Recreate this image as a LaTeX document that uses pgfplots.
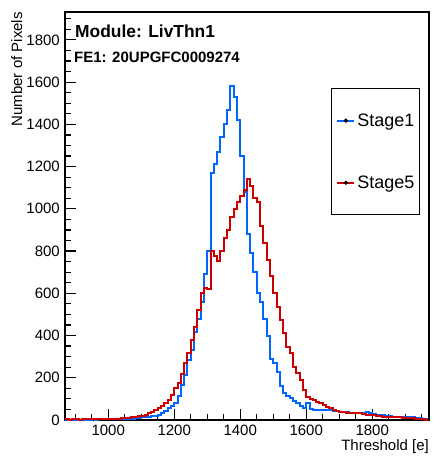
\documentclass[border=0pt]{standalone}
\usepackage{fontspec}
\setmainfont{Liberation Sans}
\usepackage{pgfplots}
\pgfplotsset{compat=1.18}
\usepackage{pgfplotstable}
\definecolor{stageone}{RGB}{0,102,255}
\definecolor{stagefive}{RGB}{204,0,0}

% bin left edge, entries (bin width 10 e)
\pgfplotstableread{
x y
870 2
880 1
890 2
900 1
910 2
920 2
930 2
940 2
950 3
960 2
970 3
980 3
990 3
1000 4
1010 3
1020 4
1030 5
1040 5
1050 6
1060 6
1070 7
1080 8
1090 10
1100 12
1110 14
1120 16
1130 18
1140 21
1150 25
1160 33
1170 42
1180 55
1190 68
1200 82
1210 115
1220 165
1230 215
1240 285
1250 330
1260 415
1270 480
1280 560
1290 690
1300 800
1310 1170
1320 1210
1330 1270
1340 1340
1350 1400
1360 1470
1370 1580
1380 1530
1390 1420
1400 1250
1410 1080
1420 880
1430 790
1440 700
1450 600
1460 560
1470 480
1480 400
1490 290
1500 270
1510 225
1520 160
1530 130
1540 115
1550 105
1560 90
1570 80
1580 68
1590 58
1600 82
1610 52
1620 48
1630 48
1640 46
1650 47
1660 45
1670 46
1680 44
1690 42
1700 40
1710 38
1720 36
1730 34
1740 33
1750 32
1760 33
1770 35
1780 36
1790 34
1800 30
1810 26
1820 24
1830 22
1840 20
1850 18
1860 16
1870 16
1880 15
1890 14
1900 13
1910 13
1920 12
1930 10
1940 8
1950 6
1960 4
1970 4
}\stageone

\pgfplotstableread{
x y
870 3
880 2
890 3
900 3
910 2
920 3
930 3
940 4
950 3
960 4
970 4
980 5
990 5
1000 5
1010 6
1020 6
1030 7
1040 8
1050 9
1060 10
1070 12
1080 14
1090 17
1100 20
1110 25
1120 32
1130 40
1140 47
1150 55
1160 65
1170 79
1180 95
1190 120
1200 150
1210 175
1220 220
1230 270
1240 316
1250 380
1260 440
1270 520
1280 600
1290 625
1300 620
1310 800
1320 775
1330 755
1340 800
1350 860
1360 900
1370 960
1380 1000
1390 1030
1400 1060
1410 1090
1420 1140
1430 1110
1440 1050
1450 1030
1460 920
1470 840
1480 760
1490 680
1500 600
1510 537
1520 474
1530 411
1540 347
1550 316
1560 253
1570 221
1580 190
1590 142
1600 110
1610 100
1620 95
1630 85
1640 79
1650 70
1660 63
1670 55
1680 47
1690 42
1700 39
1710 36
1720 34
1730 33
1740 32
1750 32
1760 31
1770 28
1780 26
1790 24
1800 22
1810 20
1820 18
1830 16
1840 15
1850 14
1860 13
1870 13
1880 12
1890 11
1900 10
1910 9
1920 8
1930 7
1940 6
1950 4
1960 2
1970 2
}\stagefive

\begin{document}
\begin{tikzpicture}
\begin{axis}[
scale only axis,
width=364pt,
height=408pt,
xmin=869, xmax=1972,
ymin=0, ymax=1932,
xtick={800,1000,...,2000},
ytick={0,200,...,2000},
minor tick num=3,
tick align=inside,
tick pos=left,
major tick length=11pt,
minor tick length=6pt,
every tick/.style={black, line width=1.2pt},
axis line style={line width=1.6pt},
ticklabel style={font=\fontsize{15}{18}\selectfont},
/pgf/number format/assume math mode=true,
/pgf/number format/1000 sep={},
xticklabel style={inner sep=0pt, yshift=-5pt},
yticklabel style={inner sep=0pt, xshift=-5pt},
xlabel={Threshold [e]},
ylabel={Number of Pixels},
label style={font=\fontsize{15}{18}\selectfont, inner sep=0pt},
xlabel style={at={(axis description cs:1,-0.075)}, anchor=base east},
ylabel style={at={(axis description cs:-0.1181,1)}, anchor=base east},
legend style={at={(axis description cs:0.9753,0.8137)}, anchor=north east,
  draw=black, line width=1.2pt, fill=white,
  font=\fontsize{18}{21}\selectfont,
  inner xsep=5pt, inner ysep=25pt, row sep=48pt, column sep=2pt,
  nodes={inner sep=0pt}, cells={anchor=west}},
]

\addplot[const plot, color=stageone, line width=2pt,
  legend image code/.code={
    \draw[draw=stageone, line width=2pt] (0pt,0pt) -- (17pt,0pt);
    \fill[black] (8.5pt,0pt) circle (0.9pt);}]
  table[x=x, y=y] {\stageone};
\addlegendentry{Stage1}
\addplot[const plot, color=stagefive, line width=2pt,
  legend image code/.code={
    \draw[draw=stagefive, line width=2pt] (0pt,0pt) -- (17pt,0pt);
    \fill[black] (8.5pt,0pt) circle (0.9pt);}]
  table[x=x, y=y] {\stagefive};
\addlegendentry{Stage5}

\node[anchor=base west, inner sep=0pt, font=\bfseries\fontsize{17.4}{20}\selectfont]
  at (rel axis cs:0.0275,0.9387) {Module: LivThn1};
\node[anchor=base west, inner sep=0pt, font=\bfseries\fontsize{15}{18}\selectfont]
  at (rel axis cs:0.0247,0.876) {FE1: 20UPGFC0009274};
\end{axis}
\pgfresetboundingbox
\path[use as bounding box] (-65pt,-38pt) rectangle (369pt,420pt);
\end{tikzpicture}
\end{document}
